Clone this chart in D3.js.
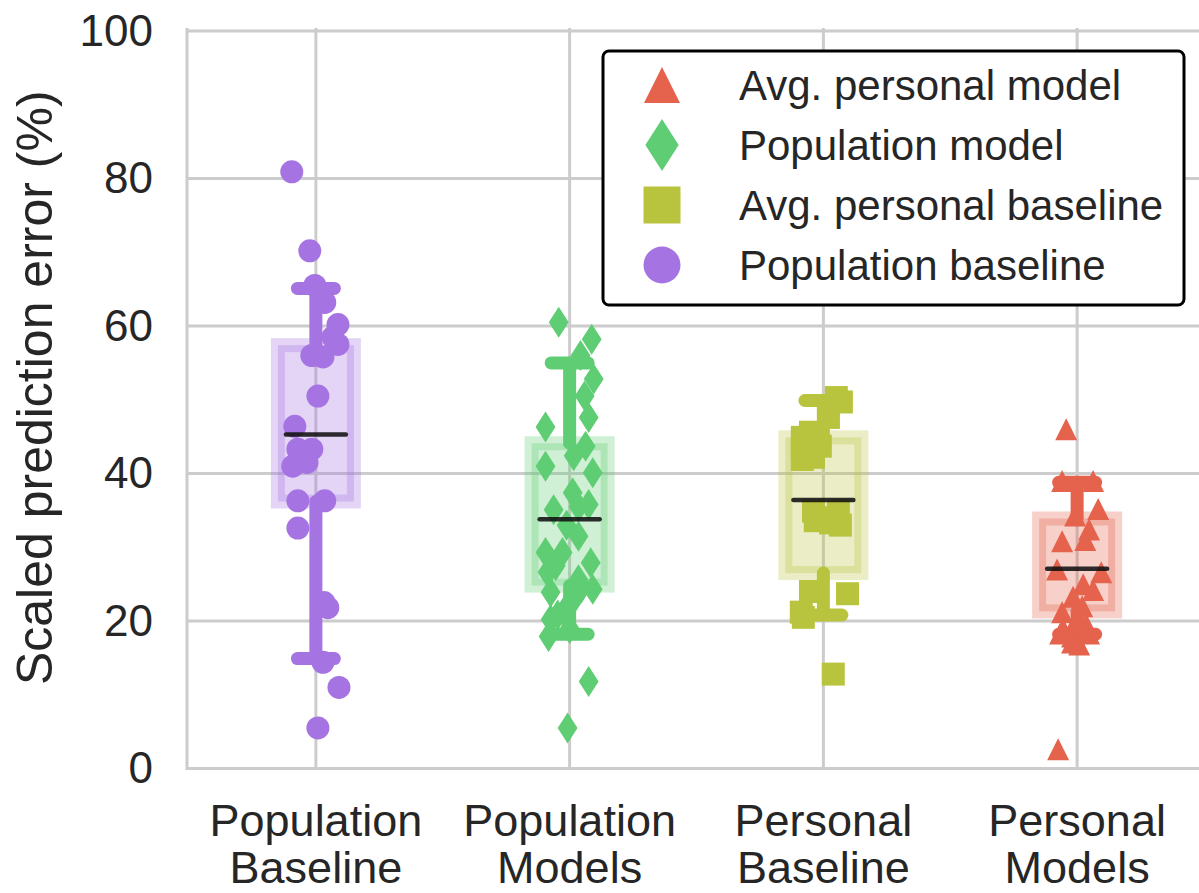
<!DOCTYPE html>
<html>
<head>
<meta charset="utf-8">
<script src="https://cdn.jsdelivr.net/npm/d3@7"></script>
<style>
  html, body { margin: 0; padding: 0; background: #fff; }
  svg { display: block; }
  text { font-family: "Liberation Sans", Arial, sans-serif; fill: #262626; }
</style>
</head>
<body>
<svg id="chart" width="1199" height="893"></svg>
<script>
// ---- data ----
const categories = ["Population Baseline", "Population Models", "Personal Baseline", "Personal Models"];
const categoryLines = [["Population", "Baseline"], ["Population", "Models"], ["Personal", "Baseline"], ["Personal", "Models"]];
const yTicks = [0, 20, 40, 60, 80, 100];

// box bounds, medians and whisker ends (%)
const boxLow = [36.2, 24.8, 26.5, 21.3];
const boxHigh = [57.4, 44.1, 44.9, 33.9];
const medians = [45.3, 33.8, 36.4, 27.1];
const whiskerLow = [14.9, 18.2, 20.8, 18.2];
const whiskerHigh = [65.1, 55.0, 49.9, 38.8];

// per-participant errors: [jitter (fraction of category width), error %]
const popBaseline = [
  [-0.095, 80.9], [-0.024, 70.2], [-0.004, 65.5], [0.035, 63.2], [0.087, 60.2], [0.067, 58.5],
  [0.087, 57.5], [-0.016, 56.0], [0.028, 55.8], [0.008, 50.5], [-0.083, 46.4], [-0.071, 43.3],
  [-0.016, 43.3], [-0.091, 41.0], [-0.035, 41.5], [-0.071, 36.3], [0.035, 36.3], [-0.071, 32.6],
  [0.032, 22.5], [0.047, 21.8], [0.028, 14.4], [0.091, 11.0], [0.008, 5.5]
];
const popModels = [
  [-0.043, 60.5], [0.087, 58.2], [0.043, 56.0], [0.095, 52.8], [0.059, 50.5], [0.075, 47.6],
  [-0.095, 46.3], [0.063, 43.7], [0.016, 42.4], [-0.095, 41.0], [0.091, 40.1], [0.012, 37.4],
  [0.075, 35.8], [0.035, 35.5], [-0.063, 35.1], [-0.012, 33.0], [0.035, 31.5], [-0.095, 29.3],
  [-0.028, 29.3], [0.083, 27.9], [-0.055, 27.5], [-0.087, 26.6], [0.035, 25.6], [0.047, 24.5],
  [-0.075, 23.9], [0.091, 24.3], [0.016, 22.9], [-0.024, 21.2], [-0.047, 20.8], [-0.075, 20.2],
  [0.000, 19.0], [-0.083, 17.9], [0.075, 11.8], [-0.008, 5.5]
];
const persBaseline = [
  [0.051, 50.3], [0.071, 49.7], [0.020, 47.6], [-0.051, 45.6], [-0.083, 44.9], [-0.012, 43.7],
  [-0.083, 43.3], [-0.039, 42.2], [-0.083, 41.9], [-0.039, 34.9], [0.059, 34.9], [0.000, 34.0],
  [-0.032, 33.6], [0.028, 33.3], [0.067, 33.0], [-0.051, 24.0], [0.095, 23.7], [-0.087, 21.2],
  [-0.079, 20.5], [0.039, 12.8]
];
const persModels = [
  [-0.043, 46.0], [-0.059, 39.0], [0.063, 39.0], [0.083, 35.2], [-0.008, 34.3], [0.047, 32.4],
  [-0.059, 30.8], [0.032, 31.0], [-0.079, 27.0], [0.095, 26.6], [0.024, 25.0], [0.063, 24.2],
  [-0.016, 23.3], [0.020, 22.0], [-0.059, 21.2], [-0.008, 19.8], [-0.067, 18.3], [-0.020, 17.9],
  [0.047, 18.3], [-0.020, 17.1], [-0.055, 18.9], [0.035, 19.6], [0.008, 16.8], [-0.075, 2.6]
];
const groupPoints = [popBaseline, popModels, persBaseline, persModels];

const legendLabels = ["Avg. personal model", "Population model", "Avg. personal baseline", "Population baseline"];
const legendGroups = [3, 1, 2, 0];

// ---- styles ----
const colors = ["#a574e2", "#5fcd73", "#b9c43e", "#e5624c"];
const shapes = ["circle", "diamond", "square", "triangle"];

function markerPath(shape, s) {
  // s = overall marker height in px
  const h = s / 2;
  if (shape === "circle") {
    return `M${-h},0A${h},${h} 0 1,0 ${h},0A${h},${h} 0 1,0 ${-h},0Z`;
  }
  if (shape === "square") {
    return `M${-h},${-h}H${h}V${h}H${-h}Z`;
  }
  if (shape === "diamond") {
    const w = h * 0.64;
    return `M0,${-h}L${w},0L0,${h}L${-w},0Z`;
  }
  // upward triangle, centred on its bounding box
  return `M0,${-h}L${h},${h}L${-h},${h}Z`;
}
const markerSize = { circle: 23, square: 23, diamond: 31, triangle: 22 };
const legendMarkerSize = { circle: 37, square: 37, diamond: 52, triangle: 36 };

// ---- layout ----
const svg = d3.select("#chart");
const plotLeft = 189, plotRight = 1204, plotTop = 31, plotBottom = 768.5;

const x = d3.scaleBand().domain(categories).range([plotLeft, plotRight]).padding(0);
const step = x.step();
const cx = c => x(c) + x.bandwidth() / 2;
const y = d3.scaleLinear().domain([0, 100]).range([plotBottom, plotTop]);

// grid
const grid = svg.append("g");
grid.selectAll("line.h").data(yTicks).join("line")
  .attr("x1", plotLeft - 2).attr("x2", 1199)
  .attr("y1", d => y(d)).attr("y2", d => y(d))
  .attr("stroke", "#cccccc").attr("stroke-width", 3);
grid.selectAll("line.v").data(categories).join("line")
  .attr("x1", d => cx(d)).attr("x2", d => cx(d))
  .attr("y1", plotTop - 3).attr("y2", plotBottom)
  .attr("stroke", "#cccccc").attr("stroke-width", 3);
// spines
grid.append("line").attr("x1", plotLeft - 2).attr("x2", plotLeft - 2).attr("y1", plotTop - 3).attr("y2", plotBottom + 1.5)
  .attr("stroke", "#cccccc").attr("stroke-width", 3);
grid.append("line").attr("x1", plotLeft - 2).attr("x2", 1199).attr("y1", plotBottom).attr("y2", plotBottom)
  .attr("stroke", "#cccccc").attr("stroke-width", 3);

// y axis labels
const yAxis = d3.axisLeft(y).tickValues(yTicks).tickSize(0).tickPadding(0);
const yAxisG = svg.append("g").attr("transform", `translate(153,0)`).call(yAxis);
yAxisG.select(".domain").remove();
yAxisG.selectAll("text").style("font-size", "44px")
  .style("font-family", '"Liberation Sans", Arial, sans-serif').attr("fill", "#262626");

svg.append("text")
  .attr("transform", `translate(52,${(plotTop + plotBottom) / 2 - 12}) rotate(-90)`)
  .attr("text-anchor", "middle")
  .style("font-size", "50px")
  .text("Scaled prediction error (%)");

// x labels (two lines each)
const xl = svg.append("g");
categories.forEach((c, i) => {
  const t = xl.append("text").attr("text-anchor", "middle").style("font-size", "45px");
  categoryLines[i].forEach((line, j) => {
    t.append("tspan").attr("x", cx(c)).attr("y", 836 + j * 47).text(line);
  });
});

// boxes
const boxHalf = 38;
svg.append("g").selectAll("rect").data(categories).join("rect")
  .attr("x", d => cx(d) - boxHalf)
  .attr("width", boxHalf * 2)
  .attr("y", (d, i) => y(boxHigh[i]))
  .attr("height", (d, i) => y(boxLow[i]) - y(boxHigh[i]))
  .attr("fill", (d, i) => colors[i]).attr("fill-opacity", 0.3)
  .attr("stroke", (d, i) => colors[i]).attr("stroke-opacity", 0.3)
  .attr("stroke-width", 14);

// whiskers with caps
const capHalf = 18.5;
const wg = svg.append("g").attr("stroke-linecap", "round").attr("stroke-width", 13);
categories.forEach((c, i) => {
  const xc = cx(c);
  const col = colors[i];
  wg.append("line").attr("x1", xc).attr("x2", xc).attr("y1", y(boxHigh[i])).attr("y2", y(whiskerHigh[i])).attr("stroke", col);
  wg.append("line").attr("x1", xc).attr("x2", xc).attr("y1", y(boxLow[i])).attr("y2", y(whiskerLow[i])).attr("stroke", col);
  wg.append("line").attr("x1", xc - capHalf).attr("x2", xc + capHalf).attr("y1", y(whiskerHigh[i])).attr("y2", y(whiskerHigh[i])).attr("stroke", col);
  wg.append("line").attr("x1", xc - capHalf).attr("x2", xc + capHalf).attr("y1", y(whiskerLow[i])).attr("y2", y(whiskerLow[i])).attr("stroke", col);
});

// points
categories.forEach((c, i) => {
  const shape = shapes[i];
  svg.append("g").selectAll("path").data(groupPoints[i]).join("path")
    .attr("transform", d => `translate(${cx(c) + d[0] * step},${y(d[1])})`)
    .attr("d", markerPath(shape, markerSize[shape]))
    .attr("fill", colors[i]);
});

// medians
svg.append("g").selectAll("line").data(categories).join("line")
  .attr("x1", d => cx(d) - 30).attr("x2", d => cx(d) + 30)
  .attr("y1", (d, i) => y(medians[i])).attr("y2", (d, i) => y(medians[i]))
  .attr("stroke", "#111").attr("stroke-opacity", 0.88)
  .attr("stroke-width", 4.5).attr("stroke-linecap", "round");

// legend
const lg = svg.append("g");
lg.append("rect").attr("x", 603).attr("y", 51).attr("width", 581).attr("height", 254)
  .attr("rx", 6).attr("fill", "#fff").attr("stroke", "#000").attr("stroke-width", 3);
legendLabels.forEach((lab, k) => {
  const gi = legendGroups[k];
  const ry = 85 + k * 60;
  const shape = shapes[gi];
  lg.append("path").attr("transform", `translate(662,${ry})`)
    .attr("d", markerPath(shape, legendMarkerSize[shape])).attr("fill", colors[gi]);
  lg.append("text").attr("x", 739).attr("y", ry).attr("dy", "0.35em")
    .style("font-size", "42px").text(lab);
});
</script>
</body>
</html>
